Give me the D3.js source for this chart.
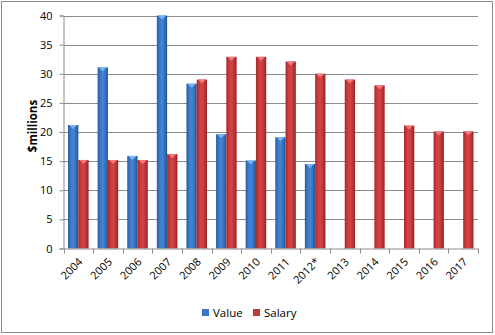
<!DOCTYPE html>
<html>
<head>
<meta charset="utf-8">
<script src="https://cdn.jsdelivr.net/npm/d3@7/dist/d3.min.js"></script>
<style>
html,body{margin:0;padding:0;background:#fff;}
svg{display:block;font-family:"Open Sans","Liberation Sans",sans-serif;}
</style>
</head>
<body>
<svg id="chart" width="495" height="335"></svg>
<script>
const categories = ["2004","2005","2006","2007","2008","2009","2010","2011","2012*","2013","2014","2015","2016","2017"];
const valueSeries = [21.2, 31.1, 15.9, 40.0, 28.3, 19.6, 15.1, 19.1, 14.5, null, null, null, null, null];
const salarySeries = [15.2, 15.2, 15.2, 16.2, 29.0, 32.9, 32.9, 32.1, 30.0, 29.0, 28.0, 21.1, 20.1, 20.1];
const seriesNames = ["Value", "Salary"];
const yTicks = [0,5,10,15,20,25,30,35,40];

const svg = d3.select("#chart");
const plotLeft = 63.5, plotRight = 478, plotTop = 15.5, plotBottom = 248.5;

const x = d3.scaleBand().domain(categories).range([plotLeft, plotRight]).padding(0);
const xs = d3.scaleBand().domain(seriesNames).range([0, x.bandwidth()]).paddingInner(0).paddingOuter(0.44);
const y = d3.scaleLinear().domain([0, 40]).range([plotBottom, plotTop]);

const defs = svg.append("defs");
function grad(id, stops) {
  const g = defs.append("linearGradient").attr("id", id).attr("x1", "0").attr("x2", "1").attr("y1", "0").attr("y2", "0");
  stops.forEach(s => g.append("stop").attr("offset", s[0]).attr("stop-color", s[1]));
}
grad("gBlue", [[0, "#2a5a9e"], [0.3, "#3d7dce"], [0.55, "#4283d4"], [0.85, "#2f66ad"], [1, "#234f8c"]]);
grad("gRed", [[0, "#a2282a"], [0.3, "#cf3e40"], [0.55, "#d24345"], [0.85, "#b02f31"], [1, "#8f2224"]]);
const fills = {Value: "url(#gBlue)", Salary: "url(#gRed)"};
const caps = {Value: "#7ab4f2", Salary: "#f27a7a"};
const legendFill = {Value: "#3a78c4", Salary: "#c0393b"};

// outer border
svg.append("rect").attr("x", 1.5).attr("y", 1.5).attr("width", 491).attr("height", 331)
  .attr("fill", "none").attr("stroke", "#8a8a8a").attr("stroke-width", 1);

// gridlines
svg.append("g").selectAll("line").data(yTicks.filter(t => t > 0)).join("line")
  .attr("x1", plotLeft).attr("x2", plotRight)
  .attr("y1", d => Math.round(y(d)) + 0.5).attr("y2", d => Math.round(y(d)) + 0.5)
  .attr("stroke", "#8c8c8c").attr("stroke-width", 1);

// y axis
const yAxis = d3.axisLeft(y).tickValues(yTicks).tickSize(4).tickPadding(7);
const gy = svg.append("g").attr("transform", `translate(${plotLeft},0)`).call(yAxis);
gy.select(".domain").attr("stroke", "#8c8c8c");
gy.selectAll(".tick line").attr("stroke", "#8c8c8c");
gy.selectAll(".tick text").attr("font-size", "11px").attr("fill", "#000")
  .attr("font-family", "'Open Sans','Liberation Sans',sans-serif");

// bars
const data = [];
categories.forEach((c, i) => {
  if (valueSeries[i] != null) data.push({cat: c, s: "Value", v: valueSeries[i]});
  if (salarySeries[i] != null) data.push({cat: c, s: "Salary", v: salarySeries[i]});
});
const bars = svg.append("g").selectAll("g").data(data).join("g");
bars.append("rect")
  .attr("x", d => x(d.cat) + xs(d.s))
  .attr("y", d => y(d.v))
  .attr("width", xs.bandwidth())
  .attr("height", d => y(0) - y(d.v))
  .attr("fill", d => fills[d.s]);
bars.append("path")
  .attr("d", d => {
    const x0 = x(d.cat) + xs(d.s), w = xs.bandwidth(), yt = y(d.v);
    return `M${x0 + 1},${yt} L${x0 + w - 1},${yt} L${x0 + w / 2},${yt + 4} Z`;
  })
  .attr("fill", d => caps[d.s]);

// x axis
const xAxis = d3.axisBottom(x).tickSize(0).tickPadding(0);
const gx = svg.append("g").attr("transform", `translate(0,${plotBottom})`).call(xAxis);
gx.select(".domain").attr("stroke", "#8c8c8c");
gx.selectAll(".tick text")
  .attr("font-size", "11px").attr("fill", "#000")
  .attr("font-family", "'Open Sans','Liberation Sans',sans-serif")
  .attr("text-anchor", "end")
  .attr("dy", "0")
  .attr("transform", "translate(5,14) rotate(-45)");
// boundary tick marks
svg.append("g").selectAll("line").data(d3.range(categories.length + 1)).join("line")
  .attr("x1", i => Math.round(plotLeft + i * x.step()) + 0.5)
  .attr("x2", i => Math.round(plotLeft + i * x.step()) + 0.5)
  .attr("y1", plotBottom).attr("y2", plotBottom + 5)
  .attr("stroke", "#8c8c8c");

// y title
svg.append("text").attr("transform", "translate(37,126) rotate(-90)")
  .attr("text-anchor", "middle").attr("font-size", "11.5px").attr("font-weight", "bold")
  .attr("fill", "#000").text("$millions");

// legend
const legendX = [202, 253];
const lg = svg.append("g").selectAll("g").data(seriesNames).join("g")
  .attr("transform", (d, i) => `translate(${legendX[i]},309)`);
lg.append("rect").attr("width", 7).attr("height", 7).attr("fill", d => legendFill[d]);
lg.append("text").attr("x", 11).attr("y", 8).attr("font-size", "11.5px").attr("fill", "#000").text(d => d);
</script>
</body>
</html>
